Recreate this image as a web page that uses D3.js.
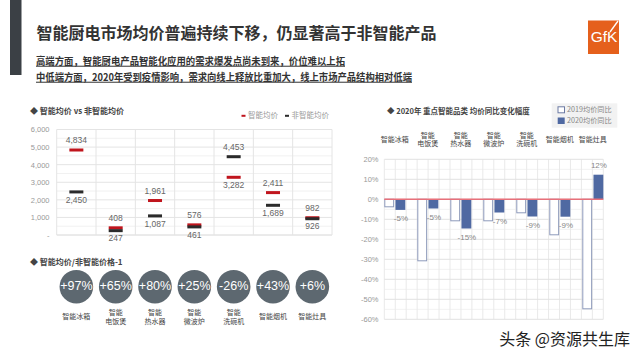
<!DOCTYPE html>
<html><head><meta charset="utf-8">
<script src="https://cdn.jsdelivr.net/npm/d3@7"></script>
<style>
html,body{margin:0;padding:0;background:#fff;}
svg{display:block;font-family:"Noto Sans CJK SC","Noto Sans",sans-serif;}
.num{font-family:"Liberation Sans",Arial,sans-serif;}
</style></head>
<body>
<svg id="c" width="640" height="360"></svg>
<script>
// ---- data ----
const categories = ["智能冰箱","智能电饭煲","智能热水器","智能微波炉","智能洗碗机","智能烟机","智能灶具"];
const categoryLines = [["智能冰箱"],["智能","电饭煲"],["智能","热水器"],["智能","微波炉"],["智能","洗碗机"],["智能烟机"],["智能灶具"]];
const smartPrice = [4834, 408, 1961, 576, 3282, 2411, 982];
const nonSmartPrice = [2450, 247, 1087, 461, 4453, 1689, 926];
const premiumPct = [97, 65, 80, 25, -26, 43, 6];
const yoy2019 = [-4, -31, -11, -11, -7, -18, -55];
const yoy2020 = [-5.3, -4.6, -14.6, -6.6, -8.6, -8.7, 12.3];
const priceTicks = [0, 1000, 2000, 3000, 4000, 5000, 6000];
const pctTicks = [20, 10, 0, -10, -20, -30, -40, -50, -60];
const seriesNames = ["2019均价同比", "2020均价同比"];
const legendLeft = ["智能均价", "非智能均价"];

const svg = d3.select("#c");
const RED = "#c0151d", DARK = "#2b2b2b", CIRCLE = "#5d6870", BLUE = "#4f69a2", OUTL = "#8e9abb";

// ---- header ----
svg.append("rect").attr("x",10).attr("y",0).attr("width",11.5).attr("height",75).attr("fill","#3b4045");
svg.append("text").attr("x",36.5).attr("y",35).attr("dominant-baseline","middle")
  .attr("font-size",16).attr("font-weight","bold").attr("fill","#333")
  .text("智能厨电市场均价普遍持续下移，仍显著高于非智能产品");
const subs = [["高端方面，智能厨电产品智能化应用的需求爆发点尚未到来，价位难以上拓",62,309],
              ["中低端方面，2020年受到疫情影响，需求向线上释放比重加大，线上市场产品结构相对低端",78,376]];
subs.forEach(s=>{
  svg.append("text").attr("x",36).attr("y",s[1]).attr("dominant-baseline","middle")
    .attr("font-size",10).attr("font-weight","bold").attr("fill","#333")
    .attr("text-decoration","underline")
    .attr("textLength",s[2]).attr("lengthAdjust","spacingAndGlyphs").text(s[0]);
});
// GfK logo
const lg = svg.append("g");
lg.append("rect").attr("x",588).attr("y",20.5).attr("width",31).attr("height",33.5).attr("fill","#e5601c");
lg.append("text").attr("x",604).attr("y",42).attr("text-anchor","middle").attr("font-size",15.5)
  .attr("fill","#fff").attr("font-family","Liberation Sans, Arial").text("GfK");
lg.append("line").attr("x1",618).attr("y1",21).attr("x2",610).attr("y2",32).attr("stroke","#fff").attr("stroke-width",1.3);

// ---- left chart ----
const xL = d3.scaleBand().domain(categories).range([56.7, 332]).padding(0);
const yL = d3.scaleLinear().domain([0, 6000]).range([235, 129.5]);
const gL = svg.append("g");
d3.range(500, 6000, 1000).forEach(v=>{
  gL.append("line").attr("x1",56.7).attr("x2",332).attr("y1",yL(v)).attr("y2",yL(v)).attr("stroke","#f1f1f1");
});
priceTicks.forEach(v=>{
  gL.append("line").attr("x1",56.7).attr("x2",332).attr("y1",yL(v)).attr("y2",yL(v)).attr("stroke", v===0?"#d6d6d6":"#e4e4e4");
});
categories.forEach(c=>{
  gL.append("line").attr("x1",xL(c)).attr("x2",xL(c)).attr("y1",yL(6000)).attr("y2",yL(0)).attr("stroke","#e4e4e4");
});
gL.append("line").attr("x1",332).attr("x2",332).attr("y1",yL(6000)).attr("y2",yL(0)).attr("stroke","#e4e4e4");
const axL = gL.append("g").attr("transform","translate(49.5,0)")
  .call(d3.axisLeft(yL).tickValues(priceTicks).tickSize(0).tickPadding(0).tickFormat(d=> d===0?"-":d3.format(",")(d)));
axL.select(".domain").remove();
axL.selectAll("text").attr("class","num").attr("font-size",7.5).attr("fill","#999");

const fmt = d3.format(",");
categories.forEach((c,i)=>{
  const cx = xL(c) + xL.bandwidth()/2;
  const s = smartPrice[i], n = nonSmartPrice[i];
  gL.append("rect").attr("x",cx-7).attr("width",14).attr("y",yL(s)-1.5).attr("height",3).attr("fill",RED);
  gL.append("rect").attr("x",cx-7).attr("width",14).attr("y",yL(n)-1.5).attr("height",3).attr("fill",DARK);
  const hi = Math.max(s,n), lo = Math.min(s,n);
  gL.append("text").attr("class","num").attr("x",cx).attr("y",yL(hi)-9).attr("text-anchor","middle")
    .attr("dominant-baseline","middle").attr("font-size",8.5).attr("fill","#666").text(fmt(hi));
  gL.append("text").attr("class","num").attr("x",cx).attr("y",yL(lo)+8.5).attr("text-anchor","middle")
    .attr("dominant-baseline","middle").attr("font-size",8.5).attr("fill","#666").text(fmt(lo));
});
svg.append("text").attr("x",30).attr("y",112).attr("dominant-baseline","middle").attr("font-size",8)
  .attr("font-weight","bold").attr("fill","#444").text("◆ 智能均价 vs 非智能均价");
[[241.5,RED,legendLeft[0]],[285,DARK,legendLeft[1]]].forEach(l=>{
  svg.append("rect").attr("x",l[0]).attr("y",114.8).attr("width",4).attr("height",2).attr("fill",l[1]);
  svg.append("text").attr("x",l[0]+6.5).attr("y",116).attr("dominant-baseline","middle").attr("font-size",7.5)
    .attr("fill","#999").text(l[2]);
});

// circles
svg.append("text").attr("x",30).attr("y",262.5).attr("dominant-baseline","middle").attr("font-size",8)
  .attr("font-weight","bold").attr("fill","#444").text("◆ 智能均价/非智能价格-1");
categories.forEach((c,i)=>{
  const cx = xL(c) + xL.bandwidth()/2;
  svg.append("circle").attr("cx",cx).attr("cy",286.7).attr("r",16.8).attr("fill",CIRCLE);
  svg.append("text").attr("class","num").attr("x",cx).attr("y",287).attr("text-anchor","middle")
    .attr("dominant-baseline","middle").attr("font-size",12.5).attr("fill","#fff")
    .text((premiumPct[i]>0?"+":"-")+Math.abs(premiumPct[i])+"%");
  const lines = categoryLines[i];
  lines.forEach((t,j)=>{
    const y = lines.length===1 ? 317.3 : 313.3 + j*9;
    svg.append("text").attr("x",cx).attr("y",y).attr("text-anchor","middle").attr("dominant-baseline","middle")
      .attr("font-size",7).attr("fill","#444").text(t);
  });
});

// ---- right chart ----
const x0 = 384.3, x1 = 603.3;
const xR = d3.scaleBand().domain(categories).range([x0, x1]).paddingInner(12/33).paddingOuter(0).align(0);
const xS = d3.scaleBand().domain(seriesNames).range([0, xR.bandwidth()]).paddingInner(0.12);
const yR = d3.scaleLinear().domain([-60, 20]).range([319.3, 159.3]);
const gR = svg.append("g");
d3.range(-55, 20, 10).forEach(v=>{
  gR.append("line").attr("x1",x0).attr("x2",x1).attr("y1",yR(v)).attr("y2",yR(v)).attr("stroke","#f2f2f2");
});
d3.range(0, 21).forEach(k=>{
  const xx = x0 + k*(x1-x0)/20;
  gR.append("line").attr("x1",xx).attr("x2",xx).attr("y1",yR(20)).attr("y2",yR(-60)).attr("stroke","#e9e9e9");
});
pctTicks.forEach(v=>{
  gR.append("line").attr("x1",x0).attr("x2",x1).attr("y1",yR(v)).attr("y2",yR(v)).attr("stroke","#e2e2e2");
});
const axR = gR.append("g").attr("transform","translate(378.5,0)")
  .call(d3.axisLeft(yR).tickValues(pctTicks).tickSize(0).tickPadding(0).tickFormat(d=>d+"%"));
axR.select(".domain").remove();
axR.selectAll("text").attr("class","num").attr("font-size",7.5).attr("fill","#999");

categories.forEach((c,i)=>{
  const bx = xR(c) + xS(seriesNames[1]);
  const v = yoy2020[i];
  gR.append("rect").attr("x",bx).attr("width",xS.bandwidth())
    .attr("y",Math.min(yR(v),yR(0))).attr("height",Math.abs(yR(v)-yR(0))).attr("fill",BLUE);
  gR.append("text").attr("class","num").attr("x",bx+xS.bandwidth()/2+0.5)
    .attr("y", v<0 ? yR(v)+9 : yR(v)-8.5).attr("text-anchor","middle").attr("dominant-baseline","middle")
    .attr("font-size",8).attr("fill","#888").text(Math.round(v)+"%");
});
categories.forEach((c,i)=>{
  const bx = xR(c) + xS(seriesNames[0]);
  const v = yoy2019[i];
  gR.append("rect").attr("x",bx+0.5).attr("width",xS.bandwidth()-1)
    .attr("y",Math.min(yR(v),yR(0))).attr("height",Math.abs(yR(v)-yR(0))-0.5)
    .attr("fill","#fff").attr("stroke",OUTL).attr("stroke-width",1);
});
gR.append("line").attr("x1",x0).attr("x2",x1).attr("y1",yR(0)).attr("y2",yR(0)).attr("stroke","#e8707a").attr("stroke-width",1.5);

categories.forEach((c,i)=>{
  const cx = xR(c) + xR.bandwidth()/2;
  const lines = categoryLines[i];
  lines.forEach((t,j)=>{
    const y = lines.length===1 ? 140 : 135.7 + j*8.8;
    svg.append("text").attr("x",cx).attr("y",y).attr("text-anchor","middle").attr("dominant-baseline","middle")
      .attr("font-size",7).attr("fill","#444").text(t);
  });
});
svg.append("text").attr("x",387).attr("y",112).attr("dominant-baseline","middle").attr("font-size",7.5)
  .attr("font-weight","bold").attr("fill","#444").text("◆ 2020年 重点智能品类 均价同比变化幅度");
svg.append("rect").attr("x",551.7).attr("y",103.3).attr("width",65.6).attr("height",24.4).attr("fill","#f2f2f2");
svg.append("rect").attr("x",558).attr("y",106.8).attr("width",6.5).attr("height",6).attr("fill","#fff").attr("stroke","#6c7aa3");
svg.append("rect").attr("x",557.7).attr("y",117.5).attr("width",7).attr("height",6.5).attr("fill",BLUE);
seriesNames.forEach((s,i)=>{
  svg.append("text").attr("x",567).attr("y",110 + i*10.8).attr("dominant-baseline","middle")
    .attr("font-size",7.2).attr("fill","#888").text(s);
});

svg.append("text").attr("x",630).attr("y",341).attr("text-anchor","end").attr("dominant-baseline","middle")
  .attr("font-size",16).attr("fill","#222").attr("stroke","#fff").attr("stroke-width",2)
  .attr("paint-order","stroke").text("头条 @资源共生库");
</script>
</body></html>
